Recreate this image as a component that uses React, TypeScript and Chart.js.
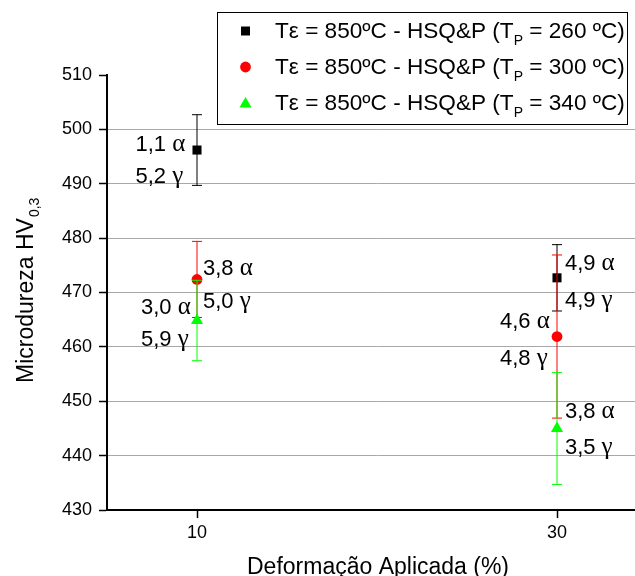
import React, { useEffect, useRef } from 'react';
import { Chart, registerables } from 'chart.js';
Chart.register(...registerables);

// ---- data ----
const deformation = [10, 30];
const hv260 = [496.2, 472.7];
const err260 = [6.5, 6.1];
const hv300 = [472.4, 461.9];
const err300 = [7.0, 15.0];
const hv340 = [464.85, 445.0];
const err340 = [7.4, 10.3];
const tempsP = ['260', '300', '340'];
const xTicks = [10, 30];
const yTickStep = 10;

// phase annotations (left x, centre y in data units)
const noteNum = ['1,1', '5,2', '3,8', '5,0', '3,0', '5,9', '4,9', '4,9', '4,6', '4,8', '3,8', '3,5'];
const noteGreek = ['α', 'γ', 'α', 'γ', 'α', 'γ', 'α', 'γ', 'α', 'γ', 'α', 'γ'];
const noteX = [6.58, 6.58, 10.33, 10.33, 6.89, 6.89, 30.44, 30.44, 26.83, 26.83, 30.44, 30.44];
const noteY = [497.55, 491.6, 474.75, 468.6, 467.6, 461.6, 475.7, 468.75, 464.9, 458.2, 448.4, 441.8];

const colors = ['#000000', '#ff0000', '#00ff00'];
const styles = ['rect', 'circle', 'triangle'];
const radii = [6.4, 5.4, 7];

const SANS = '"Liberation Sans", Arial, sans-serif';
const SERIF = '"Liberation Serif", "Times New Roman", serif';

const errorBars = {
  id: 'errorBars',
  beforeDatasetDraw(chart: any, args: any) {
    const ds = chart.data.datasets[args.index];
    const errs = ds.errs as number[];
    if (!errs) return;
    const ctx = chart.ctx;
    const xs = chart.scales.x;
    const ys = chart.scales.y;
    ctx.save();
    ctx.strokeStyle = ds.borderColor;
    ctx.lineWidth = 1;
    ds.data.forEach((p: any, i: number) => {
      const x = xs.getPixelForValue(p.x);
      const yt = ys.getPixelForValue(p.y + errs[i]);
      const yb = ys.getPixelForValue(p.y - errs[i]);
      ctx.beginPath();
      ctx.moveTo(x, yt);
      ctx.lineTo(x, yb);
      ctx.moveTo(x - 5, yt);
      ctx.lineTo(x + 5, yt);
      ctx.moveTo(x - 5, yb);
      ctx.lineTo(x + 5, yb);
      ctx.stroke();
    });
    ctx.restore();
  },
};

const decorations = {
  id: 'decorations',
  afterDraw(chart: any) {
    const ctx = chart.ctx;
    const xs = chart.scales.x;
    const ys = chart.scales.y;
    const area = chart.chartArea;
    ctx.save();
    ctx.fillStyle = '#000';
    // annotations
    for (let i = 0; i < noteNum.length; i++) {
      const x = xs.getPixelForValue(noteX[i]);
      const y = ys.getPixelForValue(noteY[i]) + 8;
      ctx.textAlign = 'left';
      ctx.textBaseline = 'alphabetic';
      ctx.font = `22px ${SANS}`;
      const t = noteNum[i] + ' ';
      ctx.fillText(t, x, y);
      const w = ctx.measureText(t).width;
      ctx.font = `25px ${SERIF}`;
      ctx.fillText(noteGreek[i], x + w, y);
    }
    // x title
    ctx.font = `23px ${SANS}`;
    ctx.textAlign = 'center';
    ctx.fillText('Deformação Aplicada (%)', (area.left + area.right) / 2 + 1, 574);
    // y title with subscript
    ctx.save();
    ctx.translate(33, 383);
    ctx.rotate(-Math.PI / 2);
    ctx.textAlign = 'left';
    ctx.font = `23px ${SANS}`;
    const main = 'Microdureza HV';
    ctx.fillText(main, 0, 0);
    const mw = ctx.measureText(main).width;
    ctx.font = `14px ${SANS}`;
    ctx.fillText('0,3', mw + 1, 6);
    ctx.restore();
    // legend
    const lx = 217, ly = 12, lw = 410, lh = 112;
    ctx.fillStyle = '#fff';
    ctx.fillRect(lx, ly, lw, lh);
    ctx.strokeStyle = '#000';
    ctx.lineWidth = 1;
    ctx.strokeRect(lx + 0.5, ly + 0.5, lw, lh);
    for (let i = 0; i < tempsP.length; i++) {
      const cy = 31 + i * 36;
      ctx.fillStyle = colors[i];
      ctx.beginPath();
      if (i === 0) {
        ctx.rect(241, cy - 4.5, 9, 9);
      } else if (i === 1) {
        ctx.arc(245.5, cy, 5.4, 0, Math.PI * 2);
      } else {
        const r = 7;
        ctx.moveTo(245.5, cy - r + 1);
        ctx.lineTo(245.5 + r * 0.866, cy + r * 0.5 + 1);
        ctx.lineTo(245.5 - r * 0.866, cy + r * 0.5 + 1);
        ctx.closePath();
      }
      ctx.fill();
      ctx.fillStyle = '#000';
      ctx.textAlign = 'left';
      const by = cy + 6.5;
      ctx.font = `22.6px ${SANS}`;
      const a = 'Tε = 850ºC - HSQ&P (T';
      ctx.fillText(a, 275, by);
      let cx = 275 + ctx.measureText(a).width;
      ctx.font = `14px ${SANS}`;
      ctx.fillText('P', cx, by + 7);
      cx += ctx.measureText('P').width;
      ctx.font = `22.6px ${SANS}`;
      ctx.fillText(` = ${tempsP[i]} ºC)`, cx, by);
    }
    ctx.restore();
  },
};

export default function App() {
  const ref = useRef<HTMLCanvasElement>(null);
  useEffect(() => {
    if (!ref.current) return;
    const mk = (vals: number[]) => vals.map((v, i) => ({ x: deformation[i], y: v }));
    const series = [hv260, hv300, hv340];
    const errs = [err260, err300, err340];
    const chart = new Chart(ref.current, {
      type: 'scatter',
      data: {
        datasets: series.map((s, i) => ({
          label: tempsP[i],
          data: mk(s),
          errs: errs[i],
          borderColor: colors[i],
          backgroundColor: colors[i],
          pointStyle: styles[i],
          pointRadius: radii[i],
          pointBorderWidth: 0,
          showLine: false,
          order: 2 - i,
        })) as any,
      },
      options: {
        animation: false,
        responsive: false,
        devicePixelRatio: 1,
        layout: { padding: { top: 75, right: 13, left: 0, bottom: 0 } },
        plugins: { legend: { display: false }, tooltip: { enabled: false } },
        scales: {
          x: {
            type: 'linear',
            min: 5,
            max: 35,
            afterBuildTicks: (s: any) => {
              s.ticks = xTicks.map((v) => ({ value: v }));
            },
            afterFit: (s: any) => {
              s.height = 66;
            },
            grid: { drawOnChartArea: false, drawTicks: true, tickLength: 8, tickColor: '#000', tickWidth: 1.5 },
            border: { display: true, color: '#000', width: 2 },
            ticks: { color: '#000', font: { family: SANS, size: 18 }, padding: 4, maxRotation: 0 },
          },
          y: {
            min: 430,
            max: 510,
            afterFit: (s: any) => {
              s.width = 107;
            },
            grid: {
              color: (c: any) => (c.tick && c.tick.value > 430 && c.tick.value < 510 ? '#a8a8a8' : 'rgba(0,0,0,0)'),
              tickColor: '#000',
              tickLength: 8,
              tickWidth: 1.5,
              lineWidth: 1,
            },
            border: { display: true, color: '#000', width: 2 },
            ticks: { stepSize: yTickStep, color: '#000', font: { family: SANS, size: 18 }, padding: 7 },
          },
        },
      },
      plugins: [errorBars, decorations],
    });
    return () => chart.destroy();
  }, []);
  return (
    <div style={{ position: 'absolute', left: 0, top: 0, width: 635, height: 576, overflow: 'hidden', background: '#fff' }}>
      <canvas ref={ref} width={660} height={576} style={{ width: 660, height: 576, display: 'block' }} />
    </div>
  );
}
